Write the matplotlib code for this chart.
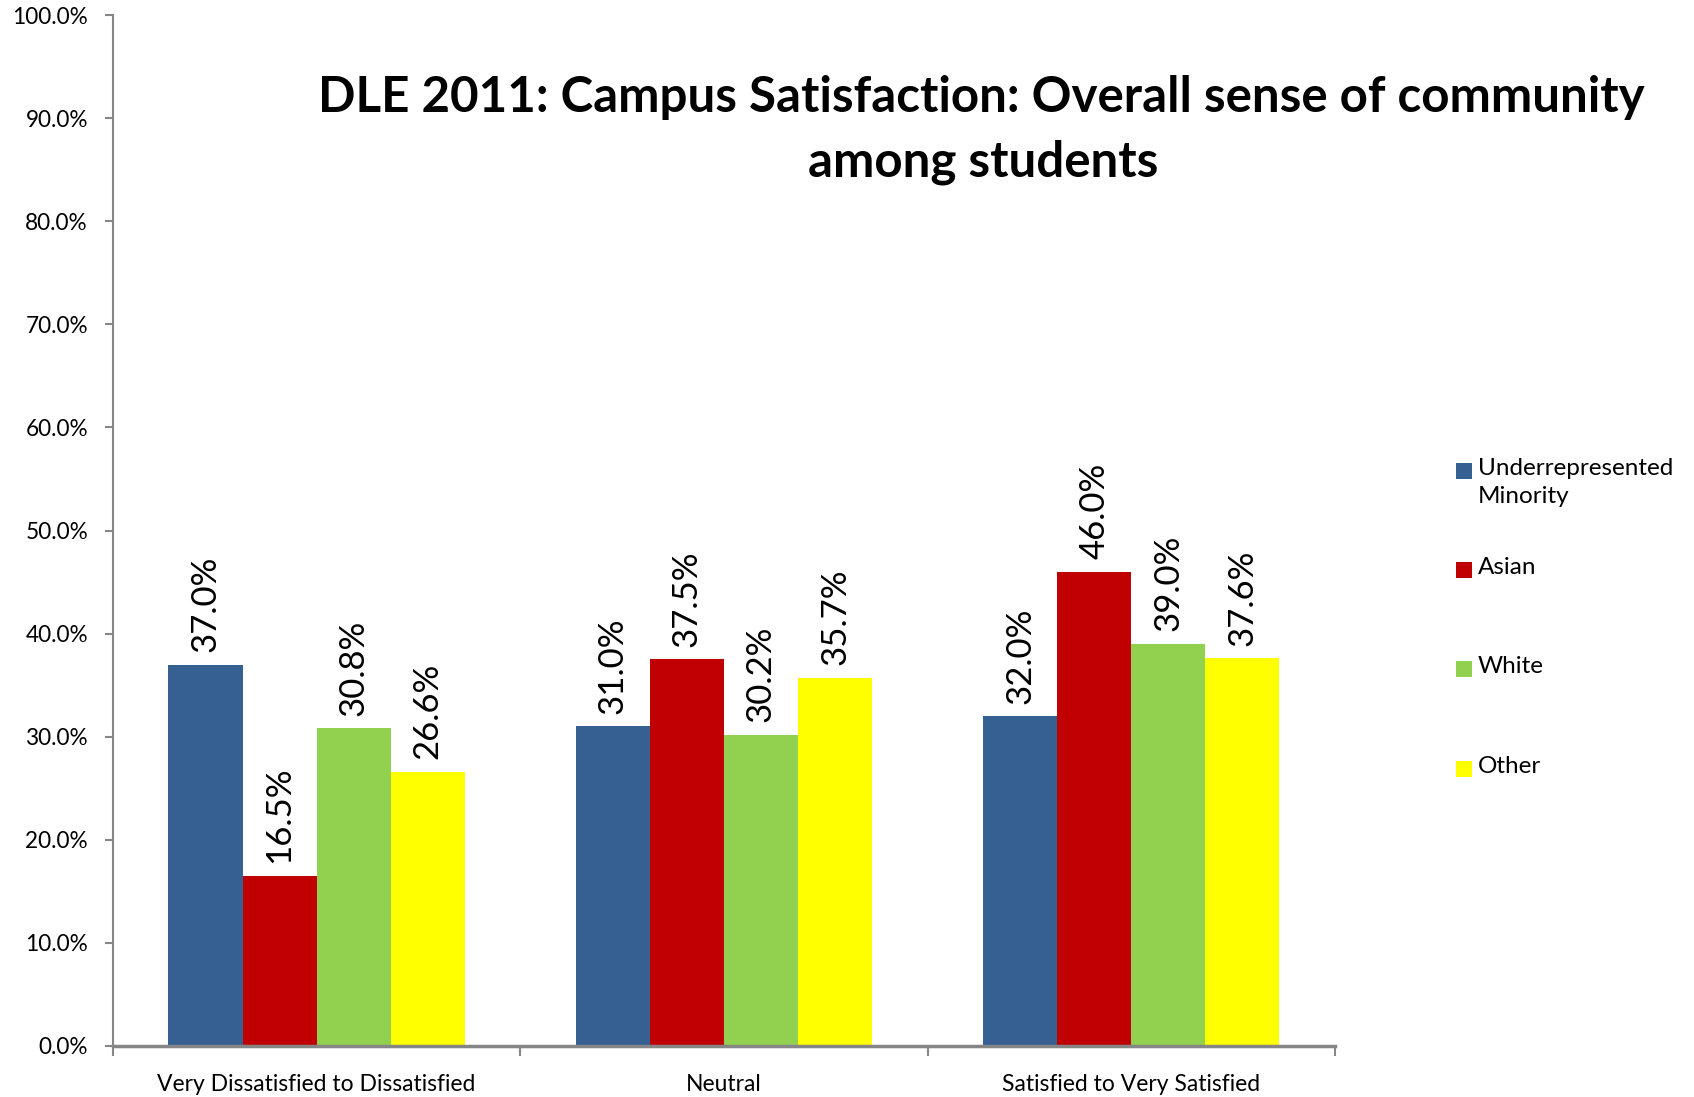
import matplotlib
matplotlib.use('Agg')
import matplotlib.pyplot as plt
from matplotlib.patches import Rectangle
from matplotlib.ticker import MultipleLocator, FuncFormatter
import numpy as np

plt.rcParams['font.family'] = ['Lato', 'DejaVu Sans']

# survey responses by group
categories = ['Very Dissatisfied to Dissatisfied', 'Neutral', 'Satisfied to Very Satisfied']
groups = ['Underrepresented\nMinority', 'Asian', 'White', 'Other']
urm = [37.0, 31.0, 32.0]
asian = [16.5, 37.5, 46.0]
white = [30.8, 30.2, 39.0]
other = [26.6, 35.7, 37.6]
series = [urm, asian, white, other]
colors = ['#366092', '#C00000', '#92D050', '#FFFF00']

fig = plt.figure(figsize=(16.94, 10.97), dpi=100)
ax = fig.add_axes([0.0667, 0.0465, 0.7213, 0.9398])

x = np.arange(len(categories))
w = 0.182
axis_grey = '#868686'

for i, (vals, c) in enumerate(zip(series, colors)):
    pos = x + (i - 1.5) * w
    ax.bar(pos, vals, width=w, color=c, linewidth=0, zorder=2)
    for px, v in zip(pos, vals):
        ax.annotate(f'{v:.1f}%', (px, v), xytext=(0, 9), textcoords='offset points',
                    rotation=90, ha='center', va='bottom', fontsize=25)

ax.set_xlim(-0.5, 2.5)
ax.set_ylim(0, 100)
ax.yaxis.set_major_locator(MultipleLocator(10))
ax.yaxis.set_major_formatter(FuncFormatter(lambda v, _: f'{v:.1f}%'))

# category boundaries carry the tick marks, labels sit between them
ax.set_xticks([-0.5, 0.5, 1.5, 2.5])
ax.set_xticklabels([])
ax.set_xticks(x, minor=True)
ax.set_xticklabels(categories, minor=True, fontsize=16.5)
ax.tick_params(axis='x', which='minor', length=0, pad=20)
ax.tick_params(axis='x', which='major', length=7, width=1.5, color=axis_grey, direction='out')
ax.tick_params(axis='y', length=6, width=1.5, color=axis_grey, labelsize=16.3, pad=12)

for s in ['top', 'right']:
    ax.spines[s].set_visible(False)
for s in ['left', 'bottom']:
    ax.spines[s].set_color(axis_grey)
ax.spines['left'].set_linewidth(1.5)
ax.spines['bottom'].set_linewidth(2.5)

# two-line title
H = 1097.0
W = 1694.0
fig.text(981 / W, 1 - 97 / H, 'DLE 2011: Campus Satisfaction: Overall sense of community',
         ha='center', va='center', fontsize=35.5, fontweight='bold')
fig.text(983 / W, 1 - 162 / H, 'among students',
         ha='center', va='center', fontsize=35.5, fontweight='bold')

# legend drawn by hand so the swatch lines up with the first text line
leg_y = [471, 570, 669, 769]
for lbl, c, yy in zip(groups, colors, leg_y):
    fig.add_artist(Rectangle((1456 / W, 1 - (yy + 8) / H), 16 / W, 16 / H,
                             transform=fig.transFigure, color=c, linewidth=0))
    fig.text(1478 / W, 1 - (yy - 13) / H, lbl, ha='left', va='top', fontsize=17.5,
             linespacing=1.4)

fig.savefig('out.png', dpi=100)
